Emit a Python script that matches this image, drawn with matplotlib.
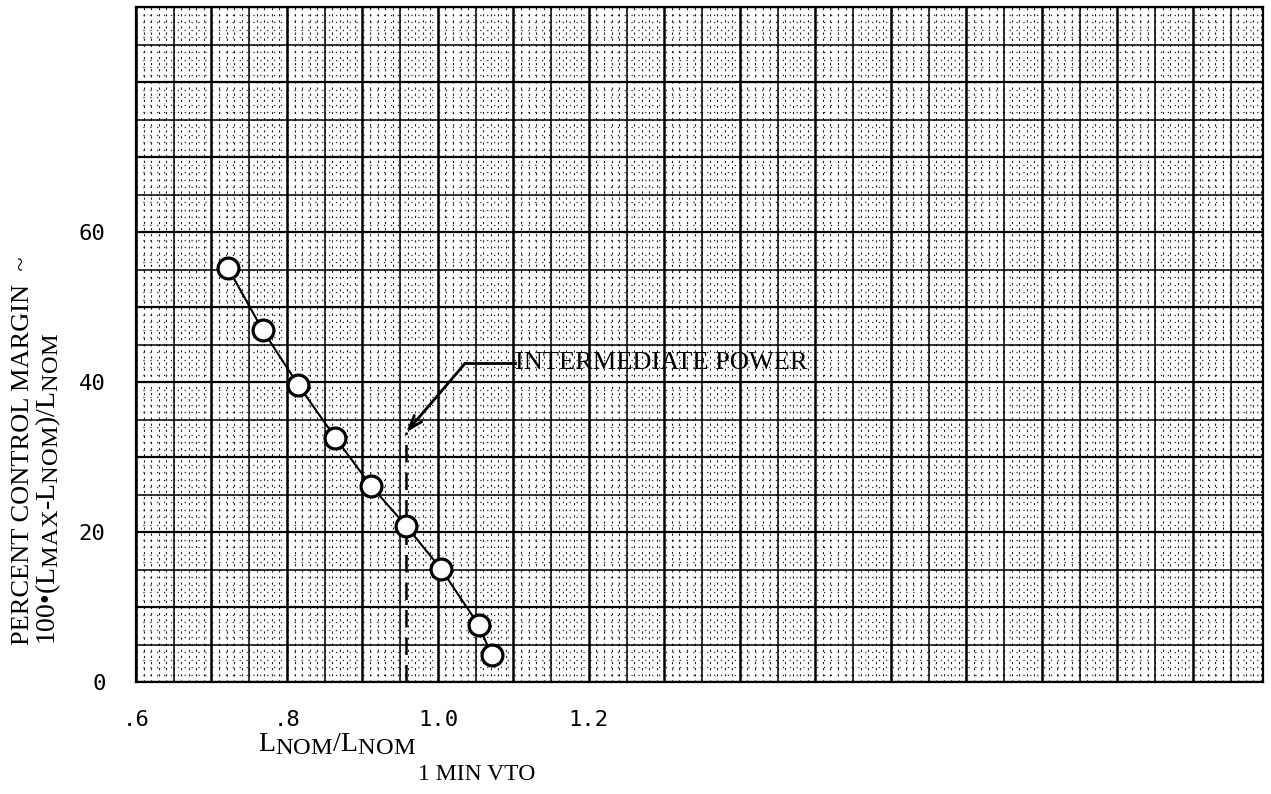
import numpy as np
import matplotlib
matplotlib.use('Agg')
import matplotlib.pyplot as plt
import matplotlib._mathtext as mtext

plt.rcParams['font.family'] = 'Liberation Serif'
plt.rcParams['mathtext.fontset'] = 'custom'
plt.rcParams['mathtext.rm'] = 'Liberation Serif'
plt.rcParams['mathtext.it'] = 'Liberation Serif'
# typewriter subscripts on the original are nearly full size
mtext.SHRINK_FACTOR = 0.88

# data
ratio = [0.722, 0.768, 0.815, 0.864, 0.911, 0.958, 1.004, 1.054, 1.071]
margin = [55.2, 46.9, 39.6, 32.6, 26.2, 20.8, 15.1, 7.6, 3.6]
x_ticks = [0.6, 0.8, 1.0, 1.2]
x_tick_labels = ['.6', '.8', '1.0', '1.2']
y_ticks = [0, 20, 40, 60]
y_tick_labels = ['0', '20', '40', '60']
int_power_x = 0.958
int_power_top = 33.3

XMIN, XMAX = 0.6, 2.093
YMIN, YMAX = 0, 90

fig = plt.figure(figsize=(12.71, 7.94), dpi=100, facecolor='white')
ax = fig.add_axes([0.107, 0.141, 0.8867, 0.85])
ax.set_xlim(XMIN, XMAX)
ax.set_ylim(YMIN, YMAX)

# ── graph paper ──
for x in np.arange(XMIN, XMAX + 1e-9, 0.01):
    ax.axvline(x, color='#222222', lw=0.8, ls=(0, (2, 3.5)), zorder=0)
for y in np.arange(YMIN, YMAX + 1e-9, 1):
    ax.axhline(y, color='#222222', lw=0.9, ls=(0, (1, 4.5)), zorder=0)
for i, x in enumerate(np.arange(XMIN, XMAX + 1e-9, 0.05)):
    ax.axvline(x, color='black', lw=1.8 if i % 2 == 0 else 1.1, zorder=1)
for i, y in enumerate(np.arange(YMIN, YMAX + 1e-9, 5)):
    ax.axhline(y, color='black', lw=1.6 if i % 2 == 0 else 1.1, zorder=1)

for s in ax.spines.values():
    s.set_linewidth(1.6)

ax.set_xticks(x_ticks)
ax.set_xticklabels(x_tick_labels, family='DejaVu Sans Mono', fontsize=16)
ax.set_yticks(y_ticks)
ax.set_yticklabels(y_tick_labels, family='DejaVu Sans Mono', fontsize=16)
ax.tick_params(axis='x', length=0, pad=20)
ax.tick_params(axis='y', length=0, pad=22)

# ── data ──
ax.plot(ratio, margin, color='black', lw=1.5, marker='o', ms=15,
        mfc='white', mec='black', mew=2.3, zorder=5)

# intermediate power
ax.vlines(int_power_x, 0, int_power_top, colors='black', linestyles=(0, (7, 4)), lw=1.8, zorder=4)
ax.annotate('', xy=(int_power_x, int_power_top), xytext=(1.036, 42.5),
            arrowprops=dict(arrowstyle='->,head_length=1.0,head_width=0.35',
                            color='black', lw=2.0, shrinkA=0, shrinkB=0), zorder=6)
ax.plot([1.036, 1.102], [42.5, 42.5], color='black', lw=2.0, zorder=6)
ax.text(1.102, 42.5, 'INTERMEDIATE POWER', fontsize=19, va='center', ha='left', zorder=6)

# ── labels ──
fig.text(0.018, 0.188, 'PERCENT CONTROL MARGIN  ~', rotation=90, fontsize=19,
         ha='center', va='bottom')
fig.text(0.038, 0.188, r'100•(L$_{\rm MAX}$-L$_{\rm NOM}$)/L$_{\rm NOM}$',
         rotation=90, fontsize=20, ha='center', va='bottom')
fig.text(0.203, 0.063, r'L$_{\rm NOM}$/L$_{\rm NOM}$', fontsize=20, ha='left', va='center')
fig.text(0.329, 0.024, '1 MIN VTO', fontsize=17, ha='left', va='center')

fig.savefig('out.png', dpi=100, facecolor='white')
